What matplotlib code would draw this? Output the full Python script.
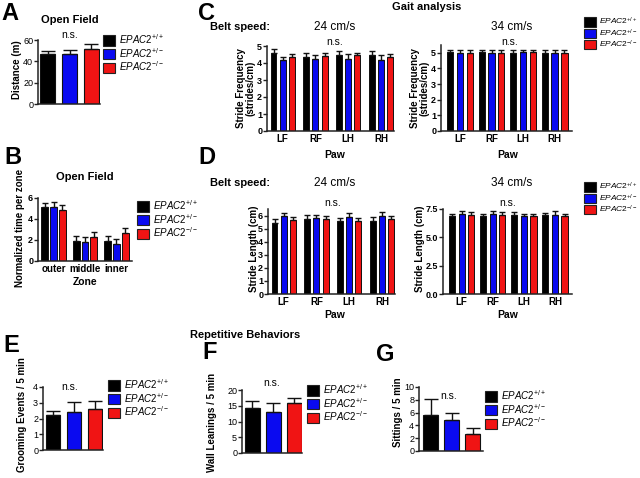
import numpy as np
import matplotlib
matplotlib.use("Agg")
import matplotlib.pyplot as plt
from matplotlib.patches import Patch

plt.rcParams['font.family'] = ['Liberation Sans', 'DejaVu Sans']
plt.rcParams['mathtext.fontset'] = 'custom'
plt.rcParams['mathtext.rm'] = 'Liberation Sans'
plt.rcParams['mathtext.it'] = 'Liberation Sans:italic'
plt.rcParams['mathtext.bf'] = 'Liberation Sans:bold'

# ---- data ----
genotypes = [r'$\mathit{EPAC2}^{+/+}$', r'$\mathit{EPAC2}^{+/-}$', r'$\mathit{EPAC2}^{-/-}$']
colors = ['#000000', '#0a0af0', '#f01414']

# A: open field distance
dist = [47, 46.5, 52]
dist_err = [3, 3.8, 4.5]

# B: time per zone
zones = ['outer', 'middle', 'inner']
zone_wt = [5.1, 1.95, 1.95]
zone_het = [5.15, 1.8, 1.6]
zone_ko = [4.85, 2.3, 2.65]
zone_wt_err = [0.45, 0.45, 0.45]
zone_het_err = [0.45, 0.45, 0.45]
zone_ko_err = [0.45, 0.45, 0.45]

# C/D: gait
paws = ['LF', 'RF', 'LH', 'RH']
freq24_wt = [4.6, 4.35, 4.45, 4.45]
freq24_het = [4.15, 4.25, 4.25, 4.15]
freq24_ko = [4.35, 4.4, 4.45, 4.35]
freq24_wt_err = [0.25, 0.25, 0.25, 0.25]
freq24_het_err = [0.22, 0.25, 0.28, 0.3]
freq24_ko_err = [0.2, 0.2, 0.15, 0.2]

freq34_wt = [5.05, 5.05, 5.0, 5.0]
freq34_het = [5.0, 5.0, 5.05, 5.0]
freq34_ko = [5.0, 5.0, 5.05, 5.0]
freq34_wt_err = [0.15, 0.15, 0.15, 0.15]
freq34_het_err = [0.15, 0.15, 0.15, 0.2]
freq34_ko_err = [0.2, 0.2, 0.12, 0.15]

len24_wt = [5.4, 5.7, 5.55, 5.6]
len24_het = [5.95, 5.8, 5.9, 5.95]
len24_ko = [5.65, 5.7, 5.6, 5.7]
len24_wt_err = [0.3, 0.35, 0.3, 0.3]
len24_het_err = [0.25, 0.25, 0.3, 0.3]
len24_ko_err = [0.25, 0.25, 0.2, 0.25]

len34_wt = [6.9, 6.9, 7.0, 6.95]
len34_het = [7.05, 7.05, 6.9, 7.0]
len34_ko = [7.0, 7.0, 6.9, 6.9]
len34_wt_err = [0.2, 0.2, 0.2, 0.2]
len34_het_err = [0.25, 0.25, 0.15, 0.3]
len34_ko_err = [0.2, 0.25, 0.15, 0.2]

# E/F/G: repetitive behaviours
groom = [2.25, 2.4, 2.6]
groom_err = [0.25, 0.65, 0.5]
lean = [14.3, 12.9, 15.8]
lean_err = [2.2, 3.1, 1.6]
sit = [5.7, 4.8, 2.6]
sit_err = [2.4, 1.1, 1.0]

W, H = 640, 478
fig = plt.figure(figsize=(6.4, 4.78), dpi=100)


def px_axes(l, t, r, b):
    return fig.add_axes([l / W, 1 - b / H, (r - l) / W, (b - t) / H])


def ftext(x, y, s, **kw):
    kw.setdefault('ha', 'center')
    kw.setdefault('va', 'center')
    fig.text(x / W, 1 - y / H, s, **kw)


def style(ax, bold_ticks=False):
    for s in ['top', 'right']:
        ax.spines[s].set_visible(False)
    for s in ['left', 'bottom']:
        ax.spines[s].set_linewidth(1.1)
        ax.spines[s].set_color('#222222')
    ax.tick_params(direction='out', length=3, width=1, labelsize=6.5, pad=0.5, color='#222222')
    ax.tick_params(axis='x', length=0, pad=2, labelsize=7)
    for lab in ax.get_xticklabels():
        lab.set_fontweight('bold')
    if bold_ticks:
        for lab in ax.get_yticklabels():
            lab.set_fontweight('bold')


def simple_bars(ax, vals, errs, cap=5):
    x = np.arange(len(vals))
    ax.bar(x, vals, 0.68, color=colors, edgecolor='#111111', linewidth=0.8,
           yerr=[np.zeros(len(vals)), errs], capsize=cap,
           error_kw=dict(elinewidth=1, capthick=1, ecolor='#111111'))
    ax.set_xticks([])


def group_bars(ax, series, errs, labels, width, offset, cap=2.5):
    x = np.arange(len(labels))
    for i, (v, e) in enumerate(zip(series, errs)):
        ax.bar(x + (i - 1) * offset, v, width, color=colors[i], edgecolor='#111111',
               linewidth=0.7, yerr=[np.zeros(len(v)), e], capsize=cap,
               error_kw=dict(elinewidth=1, capthick=1, ecolor='#111111'))
    ax.set_xticks(x)
    ax.set_xticklabels(labels)


def legend(x, y, fs=7, size=1.25, spacing=0.0):
    handles = [Patch(facecolor=c, edgecolor='#222222', linewidth=0.8) for c in colors]
    fig.legend(handles, genotypes, loc='upper left', bbox_to_anchor=(x / W, 1 - y / H),
               frameon=False, fontsize=fs, handlelength=size, handleheight=size,
               handletextpad=0.4, labelspacing=spacing, borderpad=0, borderaxespad=0)


# ---- A ----
ax = px_axes(38, 40, 100, 104)
simple_bars(ax, dist, dist_err)
ax.set_ylim(0, 60)
ax.set_yticks([0, 20, 40, 60])
ax.set_xlim(-0.45, 2.4)
style(ax)
ftext(1, 2, 'A', fontsize=17, fontweight='bold', ha='left', va='top')
ftext(70, 20, 'Open Field', fontsize=8, fontweight='bold')
ftext(70, 35, 'n.s.', fontsize=7.5)
ftext(17, 70, 'Distance (m)', fontsize=7, fontweight='bold', rotation=90)
legend(103, 32)

# ---- B ----
ax = px_axes(38, 198, 132, 261)
group_bars(ax, [zone_wt, zone_het, zone_ko], [zone_wt_err, zone_het_err, zone_ko_err],
           zones, 0.22, 0.28)
ax.set_ylim(0, 6)
ax.set_yticks([0, 2, 4, 6])
ax.set_xlim(-0.5, 2.5)
style(ax, True)
ftext(4, 146, 'B', fontsize=17, fontweight='bold', ha='left', va='top')
ftext(85, 177, 'Open Field', fontsize=8, fontweight='bold')
ftext(85, 282, 'Zone', fontsize=7.5, fontweight='bold')
ftext(20, 228, 'Normalized time per zone', fontsize=7, fontweight='bold', rotation=90)
legend(137, 198)

# ---- C ----
ftext(198, 2, 'C', fontsize=17, fontweight='bold', ha='left', va='top')
ftext(427, 7, 'Gait analysis', fontsize=8, fontweight='bold')
ax = px_axes(267, 46, 394, 131)
group_bars(ax, [freq24_wt, freq24_het, freq24_ko],
           [freq24_wt_err, freq24_het_err, freq24_ko_err], paws, 0.18, 0.28)
ax.set_ylim(0, 5)
ax.set_yticks([0, 1, 2, 3, 4, 5])
ax.set_xlim(-0.48, 3.4)
style(ax, True)
ax = px_axes(441, 45, 572, 131)
group_bars(ax, [freq34_wt, freq34_het, freq34_ko],
           [freq34_wt_err, freq34_het_err, freq34_ko_err], paws, 0.2, 0.31)
ax.set_ylim(0, 5.5)
ax.set_yticks([0, 1, 2, 3, 4, 5])
ax.set_xlim(-0.6, 3.55)
style(ax, True)
ftext(210, 27, 'Belt speed:', fontsize=8, fontweight='bold', ha='left')
ftext(335, 27, '24 cm/s', fontsize=8.5)
ftext(512, 27, '34 cm/s', fontsize=8.5)
ftext(335, 42, 'n.s.', fontsize=7.5)
ftext(510, 42, 'n.s.', fontsize=7.5)
ftext(246, 88, 'Stride Frequency\n(strides/cm)', fontsize=7, fontweight='bold',
      rotation=90, linespacing=0.95)
ftext(420, 88, 'Stride Frequency\n(strides/cm)', fontsize=7, fontweight='bold',
      rotation=90, linespacing=0.95)
ftext(335, 155, 'Paw', fontsize=7.5, fontweight='bold')
ftext(508, 155, 'Paw', fontsize=7.5, fontweight='bold')
legend(584, 16, fs=6, size=1.4)

# ---- D ----
ftext(198, 146, 'D', fontsize=17, fontweight='bold', ha='left', va='top')
ax = px_axes(268, 209, 395, 294)
group_bars(ax, [len24_wt, len24_het, len24_ko],
           [len24_wt_err, len24_het_err, len24_ko_err], paws, 0.18, 0.28)
ax.set_ylim(0, 6.5)
ax.set_yticks([0, 1, 2, 3, 4, 5, 6])
ax.set_xlim(-0.48, 3.4)
style(ax, True)
ax = px_axes(443, 209, 572, 294)
group_bars(ax, [len34_wt, len34_het, len34_ko],
           [len34_wt_err, len34_het_err, len34_ko_err], paws, 0.2, 0.31)
ax.set_ylim(0, 7.5)
ax.set_yticks([0, 2.5, 5, 7.5])
ax.set_yticklabels(['0.0', '2.5', '5.0', '7.5'])
ax.set_xlim(-0.6, 3.55)
style(ax, True)
ftext(210, 183, 'Belt speed:', fontsize=8, fontweight='bold', ha='left')
ftext(335, 183, '24 cm/s', fontsize=8.5)
ftext(512, 183, '34 cm/s', fontsize=8.5)
ftext(333, 203, 'n.s.', fontsize=7.5)
ftext(508, 203, 'n.s.', fontsize=7.5)
ftext(254, 249, 'Stride Length (cm)', fontsize=7, fontweight='bold', rotation=90)
ftext(420, 249, 'Stride Length (cm)', fontsize=7, fontweight='bold', rotation=90)
ftext(335, 315, 'Paw', fontsize=7.5, fontweight='bold')
ftext(508, 315, 'Paw', fontsize=7.5, fontweight='bold')
legend(584, 181, fs=6, size=1.4)

# ---- E/F/G ----
ftext(245, 335, 'Repetitive Behaviors', fontsize=8, fontweight='bold')

ax = px_axes(43, 387, 103, 450)
simple_bars(ax, groom, groom_err)
ax.set_ylim(0, 4)
ax.set_yticks([0, 1, 2, 3, 4])
ax.set_xlim(-0.5, 2.4)
style(ax)
ftext(3, 334, 'E', fontsize=17, fontweight='bold', ha='left', va='top')
ftext(70, 387, 'n.s.', fontsize=7.5)
ftext(22, 415, 'Grooming Events / 5 min', fontsize=7, fontweight='bold', rotation=90)
legend(108, 377)

ax = px_axes(242, 390, 302, 453)
simple_bars(ax, lean, lean_err)
ax.set_ylim(0, 20)
ax.set_yticks([0, 5, 10, 15, 20])
ax.set_xlim(-0.5, 2.36)
style(ax)
ftext(202, 341, 'F', fontsize=17, fontweight='bold', ha='left', va='top')
ftext(272, 383, 'n.s.', fontsize=7.5)
ftext(212, 422, 'Wall Leanings / 5 min', fontsize=7, fontweight='bold', rotation=90)
legend(307, 382)

ax = px_axes(419, 387, 483, 451)
simple_bars(ax, sit, sit_err)
ax.set_ylim(0, 10)
ax.set_yticks([0, 2, 4, 6, 8, 10])
ax.set_xlim(-0.55, 2.5)
style(ax)
ftext(376, 343, 'G', fontsize=17, fontweight='bold', ha='left', va='top')
ftext(449, 396, 'n.s.', fontsize=7.5)
ftext(398, 412, 'Sittings / 5 min', fontsize=7, fontweight='bold', rotation=90)
legend(485, 388)

fig.savefig('out.png', dpi=100)
